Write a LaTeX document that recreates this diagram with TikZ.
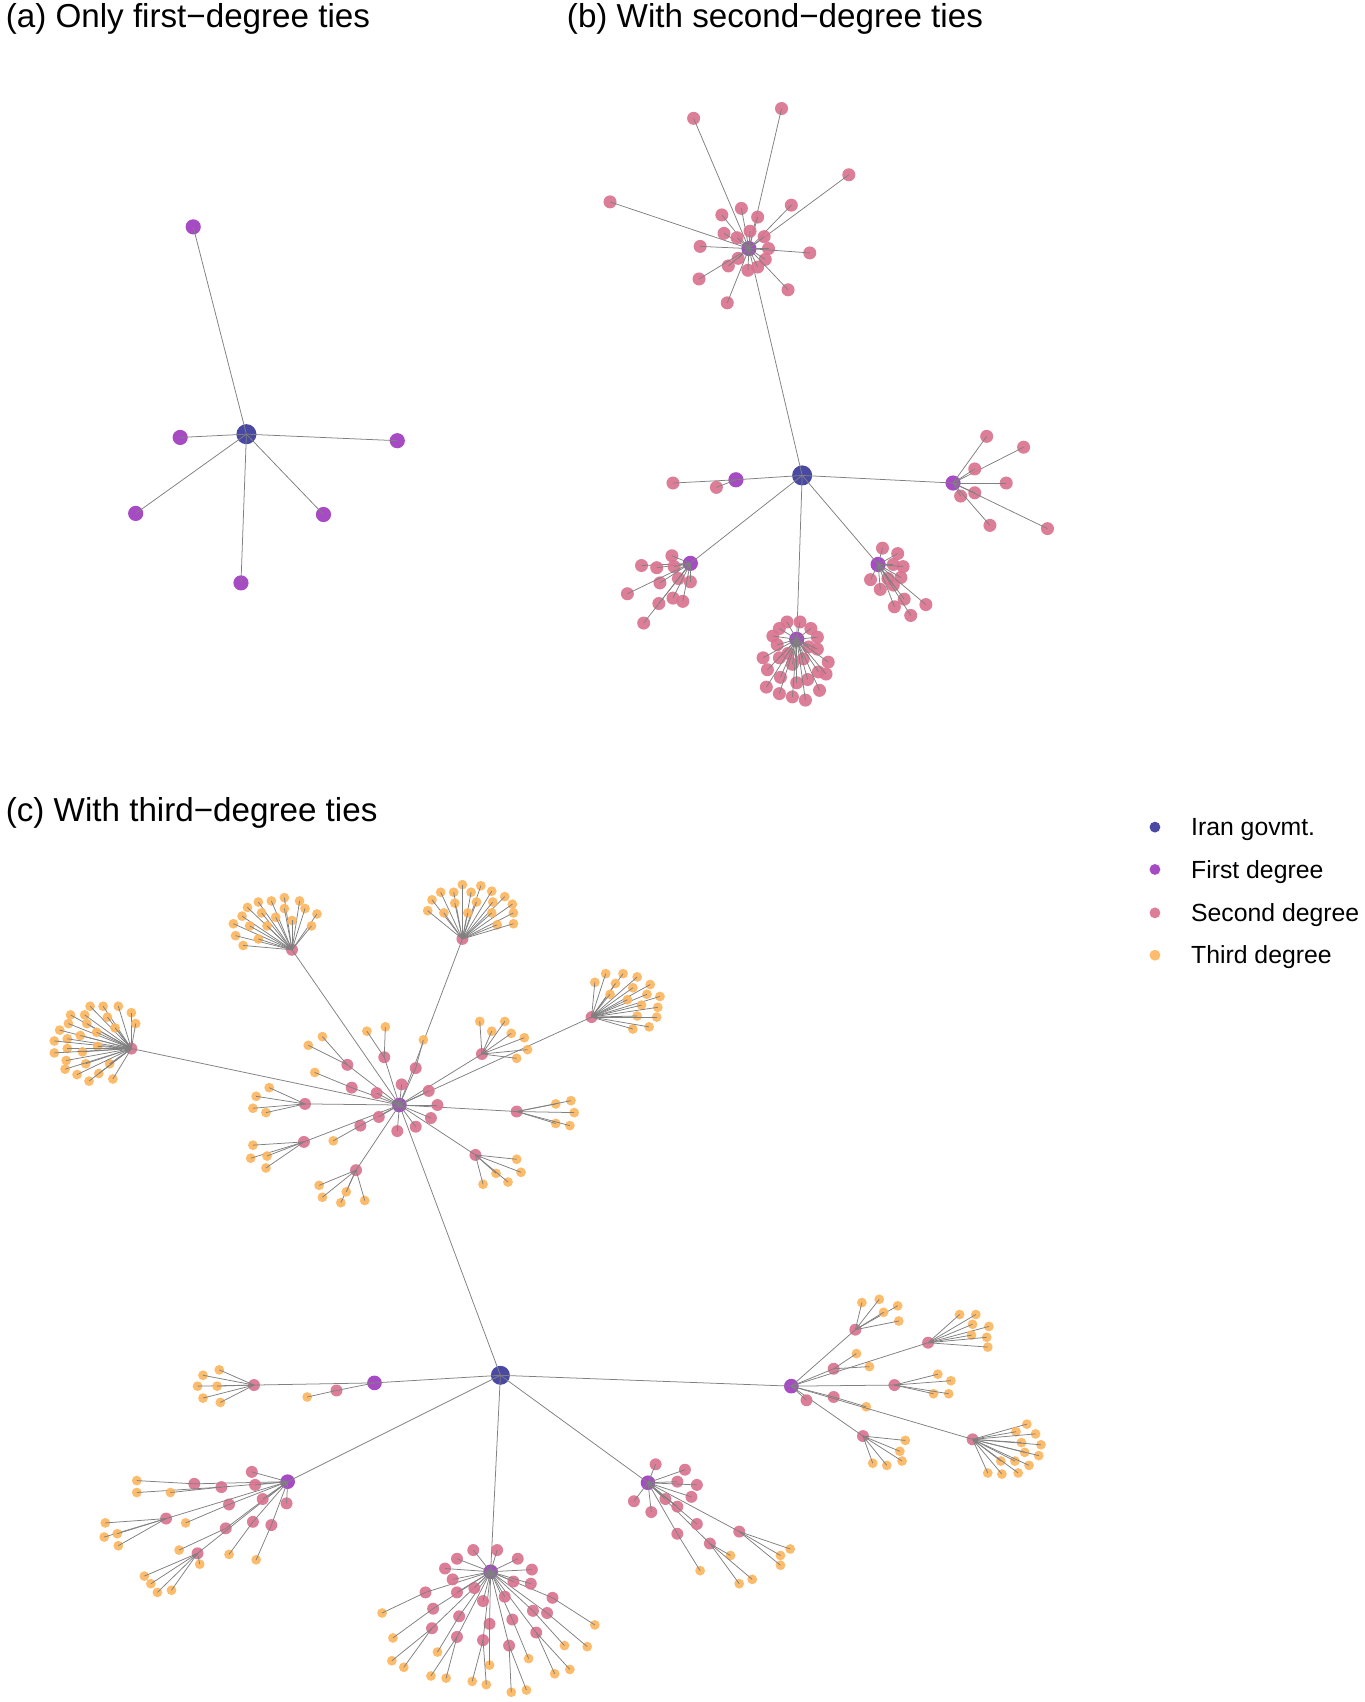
\documentclass[tikz,border=0pt]{standalone}
\usepackage{fontspec}
\setmainfont{Liberation Sans}
\definecolor{govt}{HTML}{3A3A9C}
\definecolor{firstdeg}{HTML}{9E3CBE}
\definecolor{seconddeg}{HTML}{DA7390}
\definecolor{thirddeg}{HTML}{FDB55F}

% fan of nodes round one parent: parent, style, prefix, positions
\newcommand{\leaffan}[4]{%
  \foreach \p [count=\k] in {#4} {
    \node[#2] (#3\k) at \p {};
    \draw[tieline] (#1.center) -- (#3\k.center);
  }}
% second-degree node with its third-degree fan: parent, name, position, positions
\newcommand{\branch}[4]{%
  \node[secondnode] (#2) at #3 {};
  \draw[tieline] (#1.center) -- (#2.center);
  \leaffan{#2}{thirdnode}{#2t}{#4}}

\begin{document}
\begin{tikzpicture}[x=0.02cm, y=-0.02cm,
  netdot/.style={circle, inner sep=0pt, draw=none, fill opacity=0.92},
  govnode/.style={netdot, fill=govt, minimum size=0.37cm},
  firstnode/.style={netdot, fill=firstdeg, minimum size=0.28cm},
  secondnode/.style={netdot, fill=seconddeg, minimum size=0.24cm},
  thirdnode/.style={netdot, fill=thirddeg, minimum size=0.18cm},
  tieline/.style={draw=black!50, line width=0.4pt},
  paneltitle/.style={anchor=base west, inner sep=0pt, font=\fontsize{17.4}{20}\selectfont},
  legtext/.style={anchor=base west, inner sep=0pt, font=\fontsize{13}{15}\selectfont},
]
  \useasboundingbox (0,0) rectangle (1257,1568);

  % (a) first-degree ties only
  \node[paneltitle] (ta) at (5,25) {(a) Only first−degree ties};
  \node[govnode] (a0) at (227,400) {};
  \leaffan{a0}{firstnode}{a}{(178,209),(166,403),(366,406),(125,473),(298,474),(222,537)}

  % (b) with second-degree ties
  \node[paneltitle] (tb) at (522,25) {(b) With second−degree ties};
  \node[govnode] (b0) at (739,438) {};
  \leaffan{b0}{firstnode}{b}{(690,229),(678,442),(878,445),(636,519),(734,589),(809,520)}
  \leaffan{b1}{secondnode}{b1s}{(639,109),(720,100),(782,161),(562,186),(665,198),(683,192),
    (698,200),(729,189),(667,215),(679,219),(691,213),(704,218),(645,227),(708,229),(746,233),
    (680,238),(671,245),(705,239),(689,249),(698,246),(644,257),(726,267),(670,279)}
  \leaffan{b2}{secondnode}{b2s}{(620,445),(660,449)}
  \leaffan{b3}{secondnode}{b3s}{(909,402),(943,412),(898,432),(927,445),(898,454),(885,457),
    (912,484),(965,487)}
  \leaffan{b4}{secondnode}{b4s}{(619,512),(591,521),(605,523),(621,522),(625,533),(608,537),
    (636,536),(578,547),(620,551),(629,554),(607,556),(593,574)}
  \leaffan{b5}{secondnode}{b5s}{(725,573),(737,573),(718,579),(747,579),(712,586),(753,587),
    (716,594),(745,596),(753,598),(703,606),(718,606),(726,602),(740,607),(730,612),(763,610),
    (707,617),(754,619),(761,621),(719,624),(734,629),(744,626),(706,633),(755,636),(718,639),
    (730,642),(742,645)}
  \leaffan{b6}{secondnode}{b6s}{(813,505),(827,510),(823,520),(832,522),(830,532),(802,534),
    (818,533),(823,539),(811,543),(833,552),(853,557),(824,559),(839,567)}

  % (c) with third-degree ties
  \node[paneltitle] (tc) at (5,757) {(c) With third−degree ties};
  \begin{scope}[govnode/.append style={minimum size=0.35cm},
    firstnode/.append style={minimum size=0.27cm},
    secondnode/.append style={minimum size=0.22cm}]
  \node[govnode] (c0) at (461,1267) {};
  \leaffan{c0}{firstnode}{c}{(368,1018),(345,1274),(729,1277),(265,1365),(452,1448),(597,1366)}

  % top first-degree node
  \branch{c1}{c1a}{(269,875)}{(238,831),(250,830),(262,827),(276,830),(228,836),(241,841),
    (262,837),(281,837),(292,842),(223,844),(254,845),(269,848),(215,851),(230,853),(246,853),
    (287,853),(217,862),(238,865),(224,871)}
  \branch{c1}{c1b}{(121,966)}{(83,927),(95,927),(109,927),(65,935),(78,935),(121,933),(99,937),
    (63,943),(80,943),(125,943),(106,947),(55,949),(89,951),(74,954),(62,957),(50,959),(90,964),
    (62,966),(76,969),(50,970),(61,977),(79,980),(101,980),(60,985),(91,989),(71,990),(104,994),
    (82,996)}
  \branch{c1}{c1c}{(426,865)}{(426,815),(443,816),(406,822),(418,822),(434,822),(453,821),
    (465,826),(398,829),(419,832),(439,831),(454,831),(472,833),(394,839),(409,841),(431,841),
    (453,841),(473,841),(458,852),(473,851)}
  \branch{c1}{c1d}{(545,937)}{(548,905),(558,897),(574,897),(587,900),(567,906),(599,907),
    (583,910),(562,916),(596,916),(608,918),(578,921),(591,926),(606,928),(587,936),(605,937),
    (583,948),(598,946)}
  \branch{c1}{c1e}{(320,981)}{(297,955),(284,963)}
  \branch{c1}{c1f}{(354,974)}{(338,950),(355,946)}
  \branch{c1}{c1g}{(383,984)}{(390,958)}
  \branch{c1}{c1h}{(324,1002)}{(290,988)}
  \branch{c1}{c1i}{(332,1037)}{(307,1051)}
  \branch{c1}{c1j}{(281,1017)}{(248,1002),(236,1010),(233,1021),(245,1025)}
  \branch{c1}{c1k}{(280,1052)}{(233,1055),(231,1067),(246,1065),(245,1076)}
  \branch{c1}{c1l}{(328,1078)}{(294,1092),(297,1103),(314,1108),(319,1098),(336,1106)}
  \branch{c1}{c1m}{(438,1064)}{(476,1068),(480,1080),(457,1081),(468,1089),(445,1091)}
  \branch{c1}{c1n}{(476,1024)}{(512,1017),(526,1014),(529,1025),(512,1035),(525,1037)}
  \branch{c1}{c1o}{(444,971)}{(442,941),(453,950),(465,941),(471,952),(483,956),(486,967),
    (476,975)}
  \leaffan{c1}{secondnode}{c1x}{(347,1007),(370,999),(395,1005),(403,1018),(397,1030),
    (383,1038),(366,1042),(349,1029)}

  % left first-degree node
  \branch{c2}{c2a}{(234,1276)}{(202,1262),(187,1267),(182,1277),(200,1277),(187,1288),(203,1292)}
  \branch{c2}{c2b}{(310,1281)}{(283,1287)}

  % right first-degree node
  \branch{c3}{c3a}{(788,1225)}{(794,1200),(810,1197),(827,1203),(814,1209),(828,1217)}
  \branch{c3}{c3b}{(768,1261)}{(789,1247),(801,1259)}
  \branch{c3}{c3c}{(855,1237)}{(884,1211),(899,1211),(896,1220),(911,1222),(895,1230),
    (909,1232),(910,1241)}
  \branch{c3}{c3d}{(824,1276)}{(864,1266),(876,1272),(860,1284),(874,1284)}
  \branch{c3}{c3e}{(768,1287)}{(798,1296)}
  \branch{c3}{c3f}{(795,1323)}{(834,1327),(829,1337),(831,1346),(804,1348),(817,1350)}
  \branch{c3}{c3g}{(896,1326)}{(946,1312),(936,1319),(954,1321),(941,1329),(959,1331),
    (944,1338),(957,1341),(922,1346),(935,1346),(948,1350),(910,1357),(923,1358),(938,1357)}
  \leaffan{c3}{secondnode}{c3x}{(743,1290)}

  % bottom-left first-degree node
  \branch{c4}{c4a}{(211,1386)}{(171,1403)}
  \branch{c4}{c4b}{(153,1399)}{(97,1403),(96,1416),(108,1413),(109,1424)}
  \branch{c4}{c4c}{(233,1402)}{(211,1432)}
  \branch{c4}{c4d}{(250,1405)}{(236,1437)}
  \branch{c4}{c4e}{(208,1408)}{(165,1428)}
  \branch{c4}{c4f}{(182,1431)}{(133,1452),(139,1459),(145,1467),(158,1465),(184,1441)}
  \branch{c4}{c4g}{(179,1367)}{(126,1364)}
  \branch{c4}{c4h}{(204,1370)}{(126,1375),(157,1375)}
  \leaffan{c4}{secondnode}{c4x}{(232,1356),(235,1368),(264,1385),(242,1381)}

  % bottom first-degree node
  \branch{c5}{c5a}{(392,1467)}{(352,1486)}
  \branch{c5}{c5b}{(509,1472)}{(548,1497)}
  \branch{c5}{c5c}{(399,1482)}{(362,1509)}
  \branch{c5}{c5d}{(491,1484)}{(520,1516)}
  \branch{c5}{c5e}{(504,1486)}{(541,1517)}
  \branch{c5}{c5f}{(423,1489)}{(403,1522)}
  \branch{c5}{c5g}{(472,1492)}{(487,1528)}
  \branch{c5}{c5h}{(398,1500)}{(361,1530),(372,1536)}
  \branch{c5}{c5i}{(451,1496)}{(451,1534)}
  \branch{c5}{c5j}{(494,1504)}{(511,1542),(525,1538)}
  \branch{c5}{c5k}{(421,1508)}{(397,1544),(411,1546)}
  \branch{c5}{c5l}{(445,1511)}{(435,1549),(448,1552)}
  \branch{c5}{c5m}{(469,1516)}{(471,1559),(485,1557)}
  \leaffan{c5}{secondnode}{c5x}{(436,1428),(458,1428),(421,1436),(477,1436),(410,1445),
    (490,1446),(417,1455),(473,1457),(489,1459),(437,1463),(421,1467),(445,1475),(465,1471)}

  % bottom-right first-degree node
  \branch{c6}{c6a}{(624,1413)}{(645,1447)}
  \branch{c6}{c6b}{(654,1422)}{(673,1433),(681,1459),(693,1455)}
  \branch{c6}{c6c}{(681,1411)}{(728,1427),(719,1433),(719,1442)}
  \leaffan{c6}{secondnode}{c6x}{(604,1349),(631,1354),(624,1365),(642,1368),(584,1383),
    (637,1379),(600,1393),(613,1381),(624,1388),(642,1404)}
  \end{scope}

  % legend
  \node[govnode, minimum size=0.2cm] (lg1) at (1064,762) {};
  \node[firstnode, minimum size=0.2cm] (lg2) at (1064,801) {};
  \node[secondnode, minimum size=0.2cm] (lg3) at (1064,841) {};
  \node[thirdnode, minimum size=0.2cm] (lg4) at (1064,880) {};
  \node[legtext] (lt1) at (1097,770) {Iran govmt.};
  \node[legtext] (lt2) at (1097,809) {First degree};
  \node[legtext] (lt3) at (1097,849) {Second degree};
  \node[legtext] (lt4) at (1097,888) {Third degree};
\end{tikzpicture}
\end{document}
